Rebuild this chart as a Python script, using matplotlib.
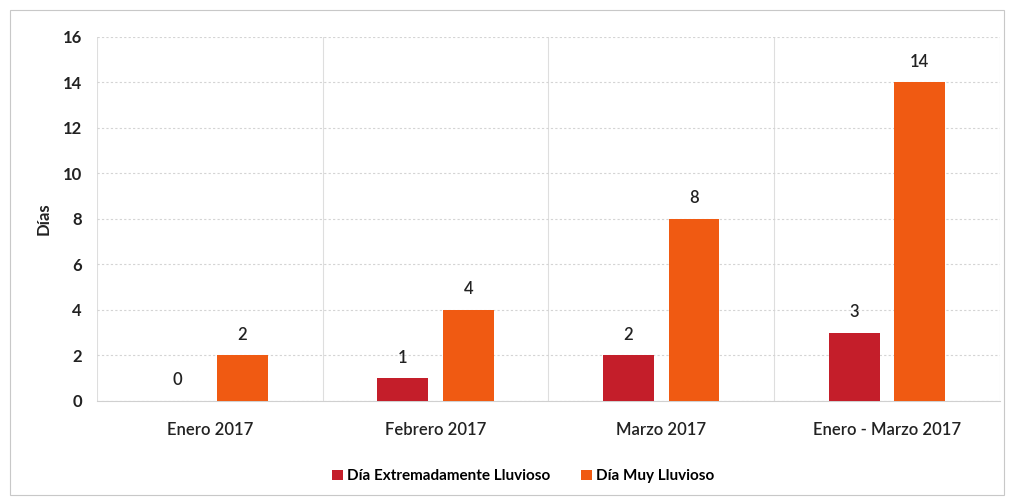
import matplotlib
matplotlib.use("Agg")
import matplotlib.pyplot as plt
import numpy as np
from matplotlib.patches import Rectangle

categories = ["Enero 2017", "Febrero 2017", "Marzo 2017", "Enero - Marzo 2017"]
extremo = [0, 1, 2, 3]
muy = [2, 4, 8, 14]
series_names = ["Día Extremadamente Lluvioso", "Día Muy Lluvioso"]
yticks = [0, 2, 4, 6, 8, 10, 12, 14, 16]

plt.rcParams['font.family'] = ['Lato', 'DejaVu Sans']

fig = plt.figure(figsize=(10.16, 5.04), dpi=100)
ax = fig.add_axes([0.0955, 0.2044, 0.8885, 0.7222])

x = np.arange(len(categories))
w = 0.225
off = 0.145
c_red = '#C41E2A'
c_org = '#F05A12'
b1 = ax.bar(x - off, extremo, w, color=c_red, label=series_names[0], zorder=3)
b2 = ax.bar(x + off, muy, w, color=c_org, label=series_names[1], zorder=3)

for bars, vals in ((b1, extremo), (b2, muy)):
    for r, v in zip(bars, vals):
        ax.annotate(f"{v}", (r.get_x() + r.get_width() / 2, v), xytext=(0, 9),
                    textcoords='offset points', ha='center', va='bottom',
                    fontsize=12, fontweight='semibold', color='#222222')

ax.set_xlim(-0.5, 3.5)
ax.set_ylim(0, 16)
ax.set_yticks(yticks)
ax.set_yticklabels([str(t) for t in yticks], fontsize=12, fontweight='bold', color='#222222')
ax.set_xticks(x)
ax.set_xticklabels(categories, fontsize=12, fontweight='semibold', color='#222222')
ax.tick_params(axis='both', length=0)
ax.tick_params(axis='y', pad=11)
ax.tick_params(axis='x', pad=15)

ax.set_axisbelow(True)
ax.yaxis.grid(True, color='#d4d4d4', linewidth=0.8, linestyle=(0, (2, 2)))
ax.set_xticks(np.arange(-0.5, 4.0, 1.0), minor=True)
ax.xaxis.grid(True, which='minor', color='#dedede', linewidth=0.8)
ax.tick_params(axis='x', which='minor', length=0)
for s in ax.spines.values():
    s.set_visible(False)
ax.spines['bottom'].set_visible(True)
ax.spines['bottom'].set_color('#d0d0d0')

ax.set_ylabel("Días", fontsize=12, fontweight='bold', color='#222222', labelpad=8)

leg = fig.legend(handles=[b1, b2], loc='center', bbox_to_anchor=(0.515, 0.055), ncol=2,
                 frameon=False, handlelength=0.7, handleheight=0.7,
                 handletextpad=0.3, columnspacing=2.0, prop={'weight': 'bold', 'size': 11})

fig.patches.append(Rectangle((0.01, 0.018), 0.978, 0.962, transform=fig.transFigure,
                             fill=False, edgecolor='#c8c8c8', linewidth=0.8))

fig.savefig("out.png", dpi=100)
